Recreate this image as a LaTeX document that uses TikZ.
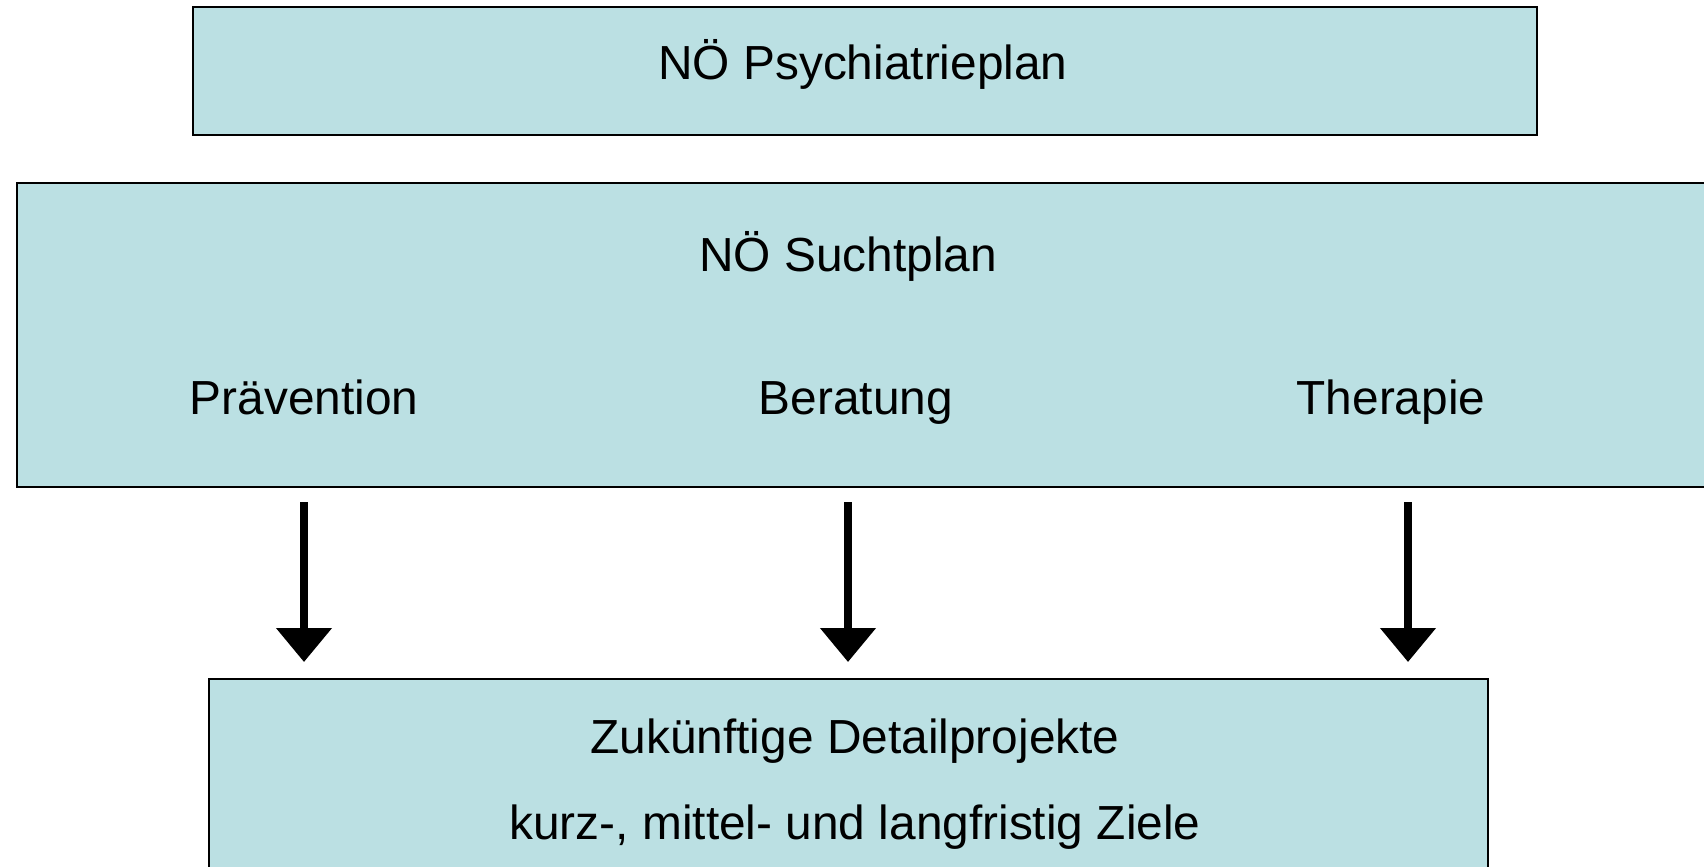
\documentclass[tikz,border=0pt]{standalone}
\usepackage{fontspec}
\setmainfont{Liberation Sans}
\usetikzlibrary{arrows.meta}
\definecolor{hellblau}{RGB}{187,224,227}
\tikzset{
  kasten/.style={draw=black, line width=0.02cm, fill=hellblau, inner sep=0pt, anchor=north west},
  titel/.style={anchor=base, inner sep=0pt, font=\fontsize{13.6}{16}\selectfont},
  pfeil/.style={line width=0.08cm, -{Triangle[width=0.54cm, length=0.34cm]}}
}

\begin{document}
\begin{tikzpicture}[x=0.01cm, y=-0.01cm]
      \useasboundingbox (0,0) rectangle (1704,866);
      \clip (0,0) rectangle (1704,866);
      % Boxes:
      \node[kasten, minimum width=13.43cm, minimum height=1.28cm] (psych) at (192,6) {};
      \node[kasten, minimum width=17.14cm, minimum height=3.04cm] (such) at (16,182) {};
      \node[kasten, minimum width=12.78cm, minimum height=2.60cm] (ziel) at (208,678) {};
      % Texts:
      \node[titel] (psychtext) at (863,79) {NÖ Psychiatrieplan};
      \node[titel] (suchttext) at (848,271) {NÖ Suchtplan};
      \node[titel] (praev) at (304,414) {Prävention};
      \node[titel] (berat) at (856,414) {Beratung};
      \node[titel] (ther) at (1391,414) {Therapie};
      \node[titel] (zieltext) at (855,753) {Zukünftige Detailprojekte};
      \node[titel] (zieltext2) at (855,839) {kurz-, mittel- und langfristig Ziele};
      % Arrows:
      \foreach \n/\x in {p/304, b/848, t/1408} {
        \coordinate (\n oben) at (\x,502);
        \coordinate (\n unten) at (\x,662);
        \draw[pfeil] (\n oben) -- (\n unten);
      }
\end{tikzpicture}
\end{document}
